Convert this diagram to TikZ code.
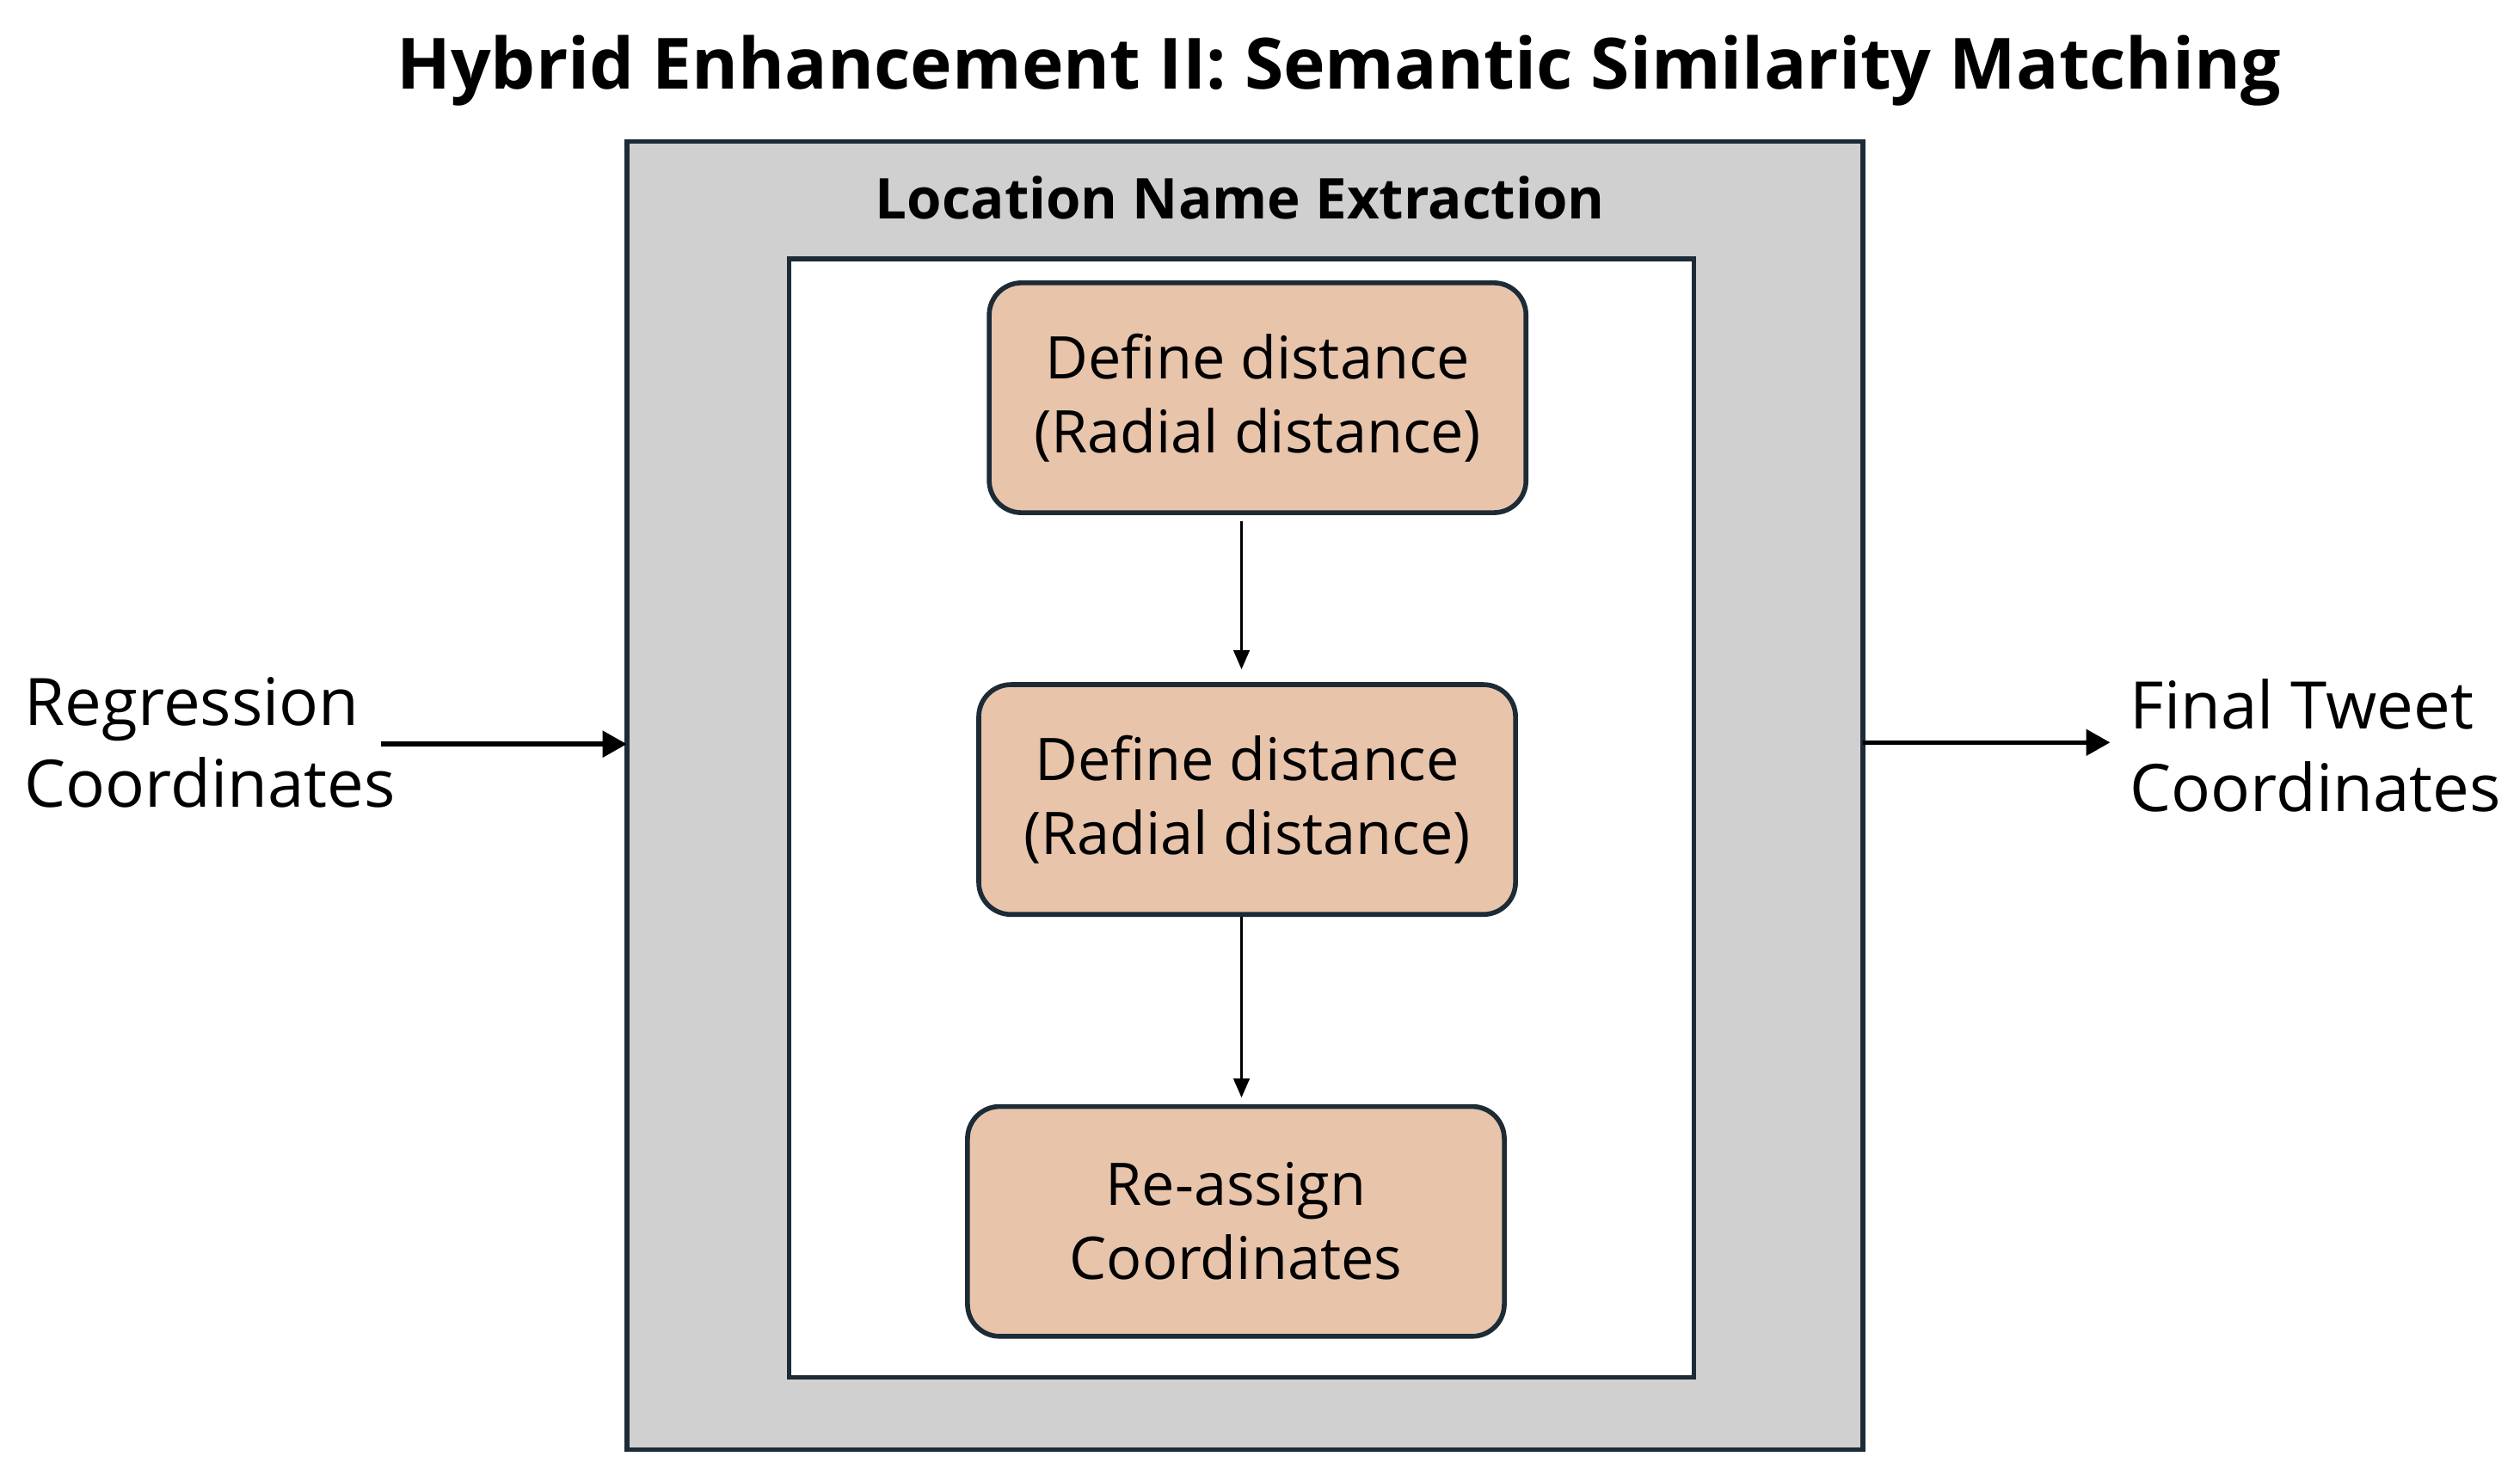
\documentclass[tikz,border=0pt]{standalone}
\usepackage{fontspec}
\setmainfont{Open Sans}
\usetikzlibrary{arrows.meta}
\definecolor{framecol}{HTML}{1C2B36}
\definecolor{panelgray}{HTML}{D0D0D0}
\definecolor{stagefill}{HTML}{E8C4AB}
\tikzset{
  panel/.style={draw=framecol, line width=1.5pt, inner sep=0pt, outer sep=0pt},
  stage/.style={draw=framecol, line width=1.5pt, fill=stagefill, rounded corners=10pt,
    minimum width=167pt, minimum height=71.5pt, inner sep=0pt, align=center,
    font=\fontsize{18.3}{23}\selectfont},
  side/.style={anchor=west, align=left, inner sep=0pt, font=\fontsize{20.4}{25.5}\selectfont},
  flow/.style={-{Triangle[length=6pt,width=5pt]}, line width=0.75pt},
  feed/.style={-{Triangle[length=7.5pt,width=8pt]}, line width=1.5pt}
}
\begin{document}
\begin{tikzpicture}[x=0.5pt,y=-0.5pt]
      \useasboundingbox (0,0) rectangle (1568,921);
      \node[anchor=base, font=\fontsize{22}{26}\selectfont\bfseries] (title) at (833,55.6)
        {Hybrid Enhancement II: Semantic Similarity Matching};
      \node[panel, fill=panelgray, minimum width=384.5pt, minimum height=407pt] (outer) at (774.5,495) {};
      \node[anchor=base, font=\fontsize{17.5}{20}\selectfont\bfseries] (extract) at (771.5,136)
        {Location Name Extraction};
      \node[panel, fill=white, minimum width=281.5pt, minimum height=348pt] (inner) at (772.5,509) {};
      \draw
        (782.5,247.5) node[stage] (radial1){Define distance\\(Radial distance)}
        (776,497.5) node[stage] (radial2){Define distance\\(Radial distance)}
        (769,760) node[stage] (reassign){Re-assign\\Coordinates};
      \node[side] (regress) at (15,462) {Regression\\Coordinates};
      \node[side] (final) at (1325,464) {Final Tweet\\Coordinates};
      \coordinate (src) at (237,463);
      \coordinate (dst) at (1313,462);
      \begin{scope}[flow]
        \draw[shorten <=2pt, shorten >=4pt] (radial1.south -| inner) to (radial2.north -| inner);
        \draw[shorten >=2pt] (radial2.south -| inner) to (reassign.north -| inner);
      \end{scope}
      \begin{scope}[feed]
        \draw (src) to (src -| outer.west);
        \draw (outer.east |- dst) to (dst);
      \end{scope}
    \end{tikzpicture}
\end{document}
